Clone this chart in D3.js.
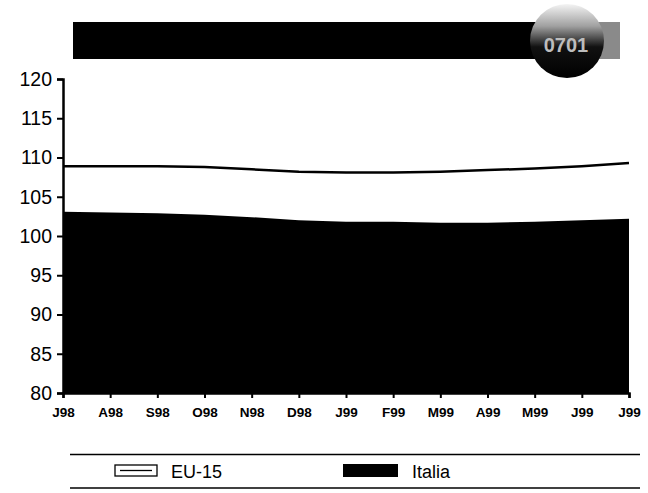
<!DOCTYPE html>
<html><head><meta charset="utf-8">
<script src="https://cdn.jsdelivr.net/npm/d3@7"></script>
<style>body{margin:0;background:#fff}svg{display:block}</style>
</head><body>
<svg id="c" width="648" height="493"></svg>
<script>
const months = ["J98","A98","S98","O98","N98","D98","J99","F99","M99","A99","M99","J99","J99"];
const eu15 = [108.9,108.9,108.9,108.8,108.5,108.2,108.1,108.1,108.2,108.4,108.6,108.9,109.3];
const italia = [103.1,103.0,102.9,102.7,102.4,102.0,101.8,101.8,101.7,101.7,101.8,102.0,102.2];
const yTicks = [80,85,90,95,100,105,110,115,120];
const seriesNames = ["EU-15","Italia"];

const svg = d3.select("#c");
const m = {l:63, r:629, t:79, b:393};
const idx = d3.range(months.length);
const x = d3.scaleLinear().domain([0, months.length-1]).range([m.l, m.r]);
const y = d3.scaleLinear().domain([80,120]).range([m.b, m.t]);
const FF = "Liberation Sans, Arial, sans-serif";

// header bar + emblem
const defs = svg.append("defs");
const g1 = defs.append("linearGradient").attr("id","em").attr("x1",0).attr("y1",0).attr("x2",0).attr("y2",1);
g1.append("stop").attr("offset","0%").attr("stop-color","#f4f4f4");
g1.append("stop").attr("offset","30%").attr("stop-color","#a0a0a0");
g1.append("stop").attr("offset","58%").attr("stop-color","#111");
g1.append("stop").attr("offset","100%").attr("stop-color","#000");
svg.append("rect").attr("x",73).attr("y",22).attr("width",547).attr("height",37).attr("fill","#000");
svg.append("rect").attr("x",592).attr("y",22).attr("width",28).attr("height",37).attr("fill","#8a8a8a");
svg.append("circle").attr("cx",567).attr("cy",41).attr("r",37).attr("fill","url(#em)");
svg.append("text").attr("x",566).attr("y",52).attr("text-anchor","middle")
  .attr("font-family",FF).attr("font-weight","bold")
  .attr("font-size",20).attr("fill","#bdbdbd").text("0701");

// area Italia
const area = d3.area().x((d,i)=>x(i)).y0(y(80)).y1(d=>y(d));
svg.append("path").datum(italia).attr("d",area).attr("fill","#000");
// line EU-15
const line = d3.line().x((d,i)=>x(i)).y(d=>y(d));
svg.append("path").datum(eu15).attr("d",line).attr("fill","none").attr("stroke","#000").attr("stroke-width",2.5);

// y axis
const ya = svg.append("g").attr("transform",`translate(${m.l},0)`)
  .call(d3.axisLeft(y).tickValues(yTicks).tickSize(6).tickPadding(5));
ya.select(".domain").attr("stroke","#000").attr("stroke-width",2.5);
ya.selectAll(".tick line").attr("stroke-width",2);
ya.selectAll("text").attr("font-family",FF).attr("font-size",19.5).attr("fill","#000");

// x axis
const xa = svg.append("g").attr("transform",`translate(0,${m.b})`)
  .call(d3.axisBottom(x).tickValues(idx).tickFormat(i=>months[i]).tickSize(5).tickPadding(9));
xa.select(".domain").attr("stroke","#000").attr("stroke-width",2.5);
xa.selectAll(".tick line").attr("stroke-width",2);
xa.selectAll("text").attr("font-family",FF).attr("font-weight","bold").attr("font-size",13.5).attr("fill","#000");

// legend
svg.append("line").attr("x1",70).attr("x2",640).attr("y1",454.5).attr("y2",454.5).attr("stroke","#000").attr("stroke-width",1.5);
svg.append("line").attr("x1",70).attr("x2",640).attr("y1",488).attr("y2",488).attr("stroke","#000").attr("stroke-width",1.5);
const lg = svg.append("g");
lg.append("rect").attr("x",115).attr("y",465).attr("width",42).attr("height",11).attr("fill","#fff").attr("stroke","#000").attr("stroke-width",1.3);
lg.append("line").attr("x1",120).attr("x2",152).attr("y1",470.5).attr("y2",470.5).attr("stroke","#000").attr("stroke-width",1.3);
lg.append("text").attr("x",171).attr("y",478).text(seriesNames[0]);
lg.append("rect").attr("x",343).attr("y",464).attr("width",55).attr("height",13).attr("fill","#000");
lg.append("text").attr("x",412).attr("y",478).text(seriesNames[1]);
lg.selectAll("text").attr("font-family",FF).attr("font-size",18).attr("fill","#000");
</script>
</body></html>
